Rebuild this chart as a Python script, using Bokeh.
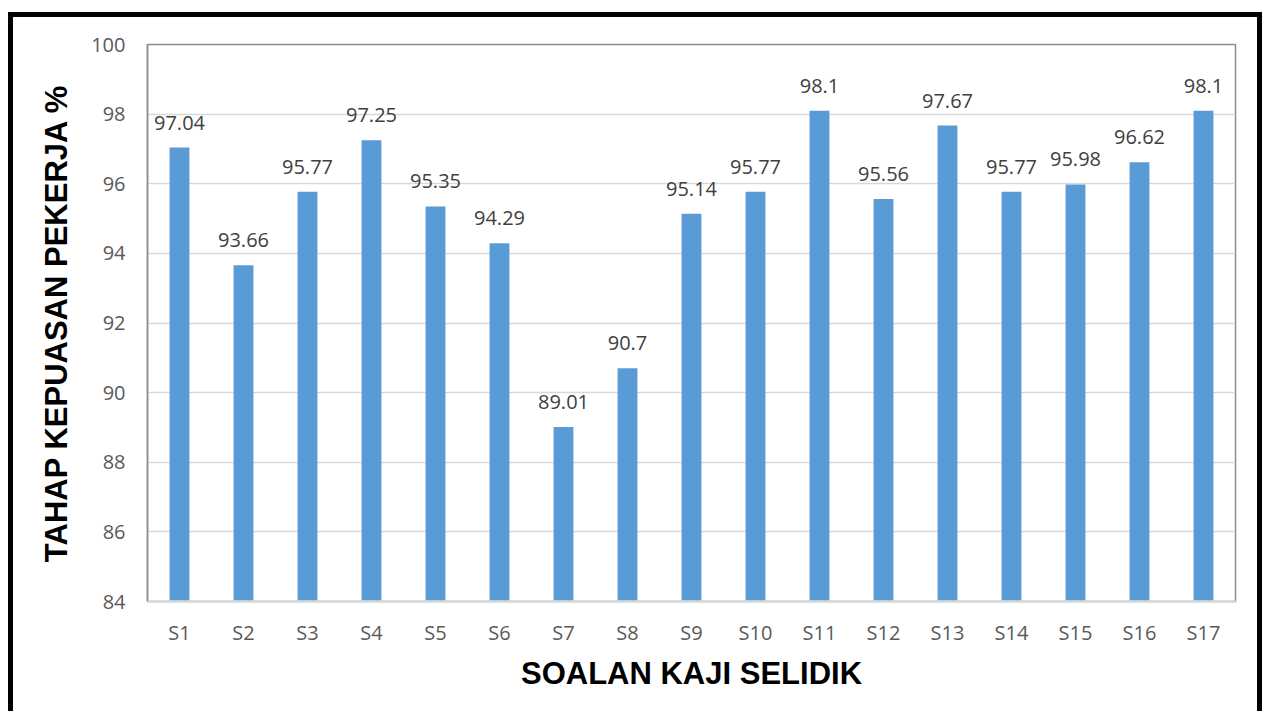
from bokeh.plotting import figure
from bokeh.models import Range1d, ColumnDataSource, Span, FixedTicker, LabelSet
from bokeh.embed import file_html
from bokeh.resources import INLINE
from bokeh.core.properties import value

categories = ["S1", "S2", "S3", "S4", "S5", "S6", "S7", "S8", "S9", "S10",
              "S11", "S12", "S13", "S14", "S15", "S16", "S17"]
values = [97.04, 93.66, 95.77, 97.25, 95.35, 94.29, 89.01, 90.7, 95.14, 95.77,
          98.1, 95.56, 97.67, 95.77, 95.98, 96.62, 98.1]
labels = ["97.04", "93.66", "95.77", "97.25", "95.35", "94.29", "89.01", "90.7", "95.14", "95.77",
          "98.1", "95.56", "97.67", "95.77", "95.98", "96.62", "98.1"]
y_ticks = [84, 86, 88, 90, 92, 94, 96, 98, 100]

source = ColumnDataSource(dict(cat=categories, val=values, lab=labels))

p = figure(x_range=categories, y_range=Range1d(84, 100),
           frame_width=1088, frame_height=557,
           min_border_left=134, min_border_right=22, min_border_top=27, min_border_bottom=110,
           output_backend="svg", toolbar_location=None)
p.styles = {"border-top": "5px solid black", "border-left": "5px solid black",
            "border-right": "5px solid black", "margin-top": "12px", "margin-left": "8px"}

p.vbar(x="cat", top="val", bottom=84, width=0.31, source=source,
       fill_color="#5B9BD5", line_color=None)

p.add_layout(LabelSet(x="cat", y="val", text="lab", source=source,
                      text_align="center", text_baseline="alphabetic", y_offset=18,
                      text_font=value("Open Sans"), text_font_size="20px",
                      text_color="#404040"))

p.outline_line_color = "#8c8c8c"
p.outline_line_width = 1.5
p.add_layout(Span(location=84, dimension="width", line_color="#d9d9d9", line_width=2))

p.xgrid.grid_line_color = None
p.ygrid.grid_line_color = "#d9d9d9"
p.ygrid.grid_line_width = 1.5
p.yaxis.ticker = FixedTicker(ticks=y_ticks)

for ax in (p.xaxis[0], p.yaxis[0]):
    ax.major_tick_line_color = None
    ax.minor_tick_line_color = None
    ax.major_tick_out = 0
    ax.major_tick_in = 0
    ax.major_label_text_font = "Open Sans"
    ax.major_label_text_font_size = "20px"
    ax.major_label_text_color = "#595959"
    ax.axis_label_text_font = "Liberation Sans"
    ax.axis_label_text_font_style = "bold"
    ax.axis_label_text_font_size = "31px"
    ax.axis_label_text_color = "#000000"

p.xaxis.axis_line_color = "#d9d9d9"
p.xaxis.axis_line_width = 2
p.yaxis.axis_line_color = "#8c8c8c"
p.yaxis.axis_line_width = 1.5
p.xaxis.major_label_standoff = 17
p.yaxis.major_label_standoff = 22
p.xaxis.axis_label = "SOALAN KAJI SELIDIK"
p.yaxis.axis_label = "TAHAP KEPUASAN PEKERJA %"
p.xaxis.axis_label_standoff = 7
p.yaxis.axis_label_standoff = 14

open("out.html", "w").write(file_html(p, INLINE))
